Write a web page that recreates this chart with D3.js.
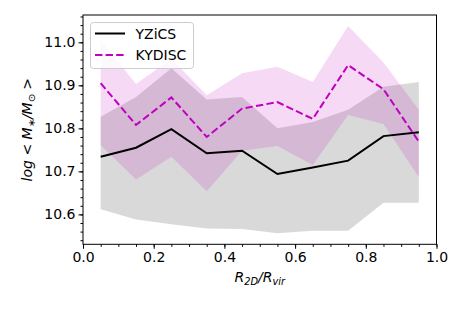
<!DOCTYPE html>
<html>
<head>
<meta charset="utf-8">
<script src="https://cdn.jsdelivr.net/npm/d3@7/dist/d3.min.js"></script>
<style>
  html, body { margin: 0; padding: 0; background: #fff; }
  svg { display: block; }
  text { font-family: "DejaVu Sans", sans-serif; }
</style>
</head>
<body>
<svg id="chart" width="463" height="310"></svg>
<script>
// ---- data ----
const radius = [0.05, 0.15, 0.25, 0.35, 0.45, 0.55, 0.65, 0.75, 0.85, 0.95];
const yzicsMean  = [10.734, 10.755, 10.798, 10.742, 10.748, 10.694, 10.709, 10.725, 10.782, 10.791];
const yzicsUpper = [10.827, 10.873, 10.940, 10.867, 10.873, 10.800, 10.815, 10.843, 10.897, 10.908];
const yzicsLower = [10.612, 10.588, 10.577, 10.567, 10.566, 10.556, 10.562, 10.562, 10.627, 10.627];
const kydiscMean  = [10.905, 10.808, 10.872, 10.780, 10.846, 10.861, 10.822, 10.947, 10.891, 10.769];
const kydiscUpper = [11.005, 10.903, 10.962, 10.877, 10.928, 10.943, 10.908, 11.038, 10.953, 10.843];
const kydiscLower = [10.761, 10.681, 10.734, 10.654, 10.748, 10.759, 10.715, 10.831, 10.810, 10.687];
const xTicks = [0.0, 0.2, 0.4, 0.6, 0.8, 1.0];
const yTicks = [10.6, 10.7, 10.8, 10.9, 11.0];
const seriesNames = ["YZiCS", "KYDISC"];

// ---- layout ----
const FS = 14, SUB = 9.8;
const svg = d3.select("#chart");
const L = 83, R = 436.5, T = 15, B = 244.3;
const x = d3.scaleLinear().domain([0, 1]).range([L, R]);
const y = d3.scaleLinear().domain([10.5305, 11.0635]).range([B, T]);

const idx = d3.range(radius.length);
const area = (lo, hi) => d3.area()
  .x(i => x(radius[i])).y0(i => y(lo[i])).y1(i => y(hi[i]));
const line = (v) => d3.line().x(i => x(radius[i])).y(i => y(v[i]));

// bands
svg.append("path").attr("d", area(yzicsLower, yzicsUpper)(idx))
  .attr("fill", "#808080").attr("fill-opacity", 0.3);
svg.append("path").attr("d", area(kydiscLower, kydiscUpper)(idx))
  .attr("fill", "#bf00bf").attr("fill-opacity", 0.15);

// lines
svg.append("path").attr("d", line(yzicsMean)(idx))
  .attr("fill", "none").attr("stroke", "#000").attr("stroke-width", 2);
svg.append("path").attr("d", line(kydiscMean)(idx))
  .attr("fill", "none").attr("stroke", "#bf00bf").attr("stroke-width", 2)
  .attr("stroke-dasharray", "7.4,3.2");

// spines
svg.append("rect").attr("x", L).attr("y", T).attr("width", R - L).attr("height", B - T)
  .attr("fill", "none").attr("stroke", "#000").attr("stroke-width", 1);

// axes
const fmt = d3.format(".1f");
const xAxis = svg.append("g").attr("transform", `translate(0,${B})`)
  .call(d3.axisBottom(x).tickValues(xTicks).tickFormat(fmt).tickSize(4.5).tickPadding(3));
const xMinor = svg.append("g").attr("transform", `translate(0,${B})`)
  .call(d3.axisBottom(x).tickValues(d3.range(0, 1.0001, 0.05)).tickFormat("").tickSize(2.5));
const yAxis = svg.append("g").attr("transform", `translate(${L},0)`)
  .call(d3.axisLeft(y).tickValues(yTicks).tickFormat(fmt).tickSize(4.5).tickPadding(3));
const yMinor = svg.append("g").attr("transform", `translate(${L},0)`)
  .call(d3.axisLeft(y).tickValues(d3.range(10.54, 11.061, 0.02)).tickFormat("").tickSize(2.5));
[xAxis, xMinor, yAxis, yMinor].forEach(g => {
  g.select(".domain").remove();
  g.selectAll("line").attr("stroke", "#000").attr("stroke-width", 1);
  g.selectAll("text").attr("font-family", "DejaVu Sans").attr("font-size", FS).attr("fill", "#000");
});

// x label
const xl = svg.append("text").attr("x", (L + R) / 2).attr("y", 282)
  .attr("text-anchor", "middle").attr("font-size", FS).attr("font-style", "italic");
xl.append("tspan").text("R");
xl.append("tspan").attr("font-size", SUB).attr("dy", 3).text("2D");
xl.append("tspan").attr("dy", -3).text("/R");
xl.append("tspan").attr("font-size", SUB).attr("dy", 3).text("vir");

// y label
const yl = svg.append("text").attr("transform", `translate(32,${(T + B) / 2}) rotate(-90)`)
  .attr("text-anchor", "middle").attr("font-size", FS).attr("font-style", "italic");
yl.append("tspan").text("log < M");
yl.append("tspan").attr("font-size", SUB).attr("dy", 3).text("∗");
yl.append("tspan").attr("dy", -3).text("/M");
yl.append("tspan").attr("font-size", SUB).attr("dy", 3).attr("font-style", "normal").text("⊙");
yl.append("tspan").attr("dy", -3).text(" >");

// legend
const lg = svg.append("g");
lg.append("rect").attr("x", 90.5).attr("y", 22.5).attr("width", 103).attr("height", 46)
  .attr("rx", 3).attr("fill", "#fff").attr("fill-opacity", 0.8)
  .attr("stroke", "#ccc").attr("stroke-width", 1);
const legendStyles = [
  { stroke: "#000", dash: null, ly: 33.5, ty: 38.5 },
  { stroke: "#bf00bf", dash: "7.4,3.2", ly: 55, ty: 60 }
];
seriesNames.forEach((name, i) => {
  const s = legendStyles[i];
  lg.append("line").attr("x1", 95).attr("x2", 125).attr("y1", s.ly).attr("y2", s.ly)
    .attr("stroke", s.stroke).attr("stroke-width", 2)
    .attr("stroke-dasharray", s.dash);
  lg.append("text").attr("x", 135.5).attr("y", s.ty).attr("font-size", FS).text(name);
});
</script>
</body>
</html>
